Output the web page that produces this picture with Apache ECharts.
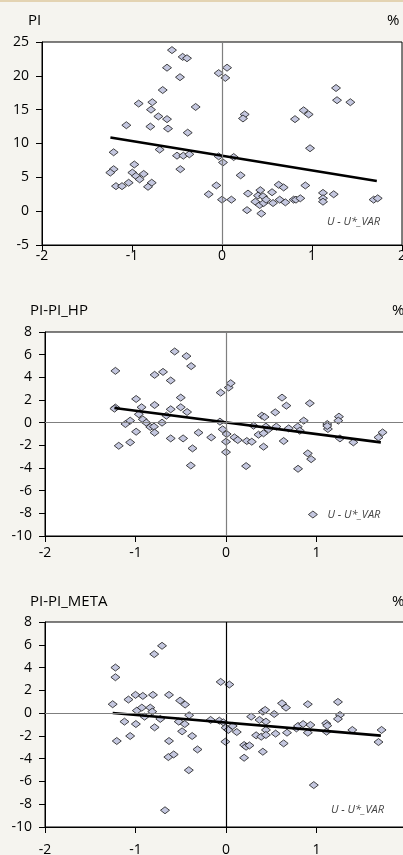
<!DOCTYPE html>
<html lang="en">
<head>
<meta charset="UTF-8">
<title>PI vs U - U*_VAR</title>
<script src="https://cdn.jsdelivr.net/npm/echarts@6/dist/echarts.min.js"></script>
<style>
  html, body { margin: 0; padding: 0; background: #f5f4ef; }
  #main { width: 403px; height: 855px; }
</style>
</head>
<body>
<div id="main"></div>
<script>
// panel titles and legend label
var titles = ['PI', 'PI-PI_HP', 'PI-PI_META'];
var seriesName = 'U - U*_VAR';
var xTicks = [-2, -1, 0, 1, 2];

// PI vs U - U*_VAR
var pi = [
  [-0.556, 23.8], [-0.437, 22.8], [-0.389, 22.6], [-0.611, 21.2], [-0.467, 19.8],
  [-0.037, 20.4], [0.056, 21.2], [0.037, 19.7], [-0.659, 17.9], [-0.926, 15.9],
  [-0.774, 16.1], [-0.789, 15.0], [-0.293, 15.4], [-0.707, 14.0], [-0.611, 13.6],
  [-1.063, 12.7], [-0.796, 12.5], [-0.6, 12.2], [-0.381, 11.6], [0.252, 14.3],
  [0.233, 13.7], [1.267, 18.2], [1.278, 16.4], [1.426, 16.1], [0.907, 14.9],
  [0.963, 14.3], [0.811, 13.6], [0.978, 9.3], [-1.204, 8.7], [-0.693, 9.1],
  [-0.5, 8.2], [-0.43, 8.2], [-0.363, 8.4], [-0.037, 8.1], [0.011, 7.2],
  [0.13, 8.0], [-0.463, 6.2], [-1.204, 6.2], [-1.241, 5.7], [-0.974, 6.9],
  [-0.996, 5.7], [-0.956, 5.2], [-0.87, 5.5], [-0.915, 4.7], [0.207, 5.3],
  [-1.178, 3.7], [-1.111, 3.7], [-1.037, 4.2], [-0.781, 4.2], [-0.822, 3.6],
  [-0.063, 3.8], [-0.148, 2.5], [0.0, 1.7], [0.104, 1.7], [0.289, 2.6],
  [0.278, 0.15], [0.426, 3.1], [0.4, 2.3], [0.456, 2.2], [0.37, 1.4],
  [0.419, 0.9], [0.463, 1.2], [0.437, -0.35], [0.556, 2.8], [0.567, 1.2],
  [0.63, 3.9], [0.685, 3.5], [0.641, 1.7], [0.704, 1.3], [0.796, 1.7],
  [0.822, 1.7], [0.87, 1.9], [0.926, 3.8], [1.122, 2.7], [1.122, 1.9],
  [1.122, 1.4], [1.241, 2.5], [1.685, 1.7], [1.73, 1.9], [0.49, 1.7]
];
var fitPi = [[-1.24, 10.9], [1.72, 4.45]];

// PI-PI_HP vs U - U*_VAR
var piHp = [
  [-1.222, 4.57], [-1.222, 1.33], [-1.233, 1.24], [-1.185, -2.04], [-1.111, -0.12],
  [-1.059, 0.18], [-1.059, -1.74], [-0.993, 2.09], [-0.993, -0.8], [-0.963, 0.74],
  [-0.933, 1.36], [-0.919, 0.29], [-0.881, 0.0], [-0.837, -0.38], [-0.796, -0.35],
  [-0.789, -0.88], [-0.789, 1.56], [-0.789, 4.22], [-0.696, 4.48], [-0.707, 0.0],
  [-0.659, 0.62], [-0.611, 3.72], [-0.611, 1.18], [-0.611, -1.39], [-0.567, 6.28],
  [-0.5, 2.21], [-0.5, 1.36], [-0.474, -1.39], [-0.437, 5.87], [-0.43, 0.94],
  [-0.385, 4.99], [-0.37, -2.27], [-0.389, -3.78], [-0.304, -0.88], [-0.163, -1.3],
  [-0.067, 0.09], [-0.059, 2.65], [-0.037, -0.59], [0.007, -1.0], [0.0, -1.68],
  [0.0, -2.6], [0.03, 3.1], [0.052, 3.48], [0.093, -1.3], [0.13, -1.53],
  [0.23, -1.62], [0.222, -3.83], [0.285, -1.68], [0.304, -0.27], [0.359, -1.06],
  [0.396, 0.62], [0.426, 0.5], [0.415, -0.94], [0.415, -2.12], [0.441, -0.35],
  [0.47, -0.59], [0.544, 0.91], [0.556, -0.35], [0.619, 2.21], [0.667, 1.5],
  [0.637, -1.62], [0.693, -0.5], [0.793, -0.35], [0.815, -0.71], [0.796, -4.07],
  [0.859, 0.18], [0.904, -2.71], [0.941, -3.22], [0.926, 1.71], [1.119, -0.12],
  [1.126, -0.56], [1.119, -0.29], [1.248, 0.53], [1.241, 0.18], [1.259, -1.39],
  [1.407, -1.74], [1.685, -1.3], [1.73, -0.86]
];
var fitHp = [[-1.233, 1.3], [1.711, -1.74]];

// PI-PI_META vs U - U*_VAR
var piMeta = [
  [-1.222, 4.0], [-1.222, 3.15], [-1.252, 0.78], [-1.207, -2.45], [-1.122, -0.75],
  [-1.078, 1.19], [-1.059, -2.01], [-1.0, 1.6], [-0.985, 0.22], [-0.996, -0.96],
  [-0.93, 0.48], [-0.919, 1.51], [-0.9, -0.31], [-0.837, 0.48], [-0.815, 0.13],
  [-0.807, 1.6], [-0.793, 5.18], [-0.789, -1.25], [-0.707, 5.91], [-0.726, -0.51],
  [-0.63, 1.6], [-0.63, -2.45], [-0.637, -3.86], [-0.578, -3.63], [-0.674, -8.53],
  [-0.507, 1.1], [-0.452, 0.75], [-0.522, -0.75], [-0.456, -0.96], [-0.485, -1.6],
  [-0.407, -0.19], [-0.374, -2.01], [-0.411, -5.01], [-0.315, -3.19], [-0.17, -0.6],
  [-0.074, -0.66], [-0.059, 2.74], [0.037, 2.51], [-0.03, -0.81], [-0.004, -1.28],
  [0.026, -1.48], [-0.007, -2.51], [0.074, -1.13], [0.119, -1.66], [0.2, -2.8],
  [0.222, -2.95], [0.259, -2.84], [0.2, -3.92], [0.278, -0.31], [0.333, -1.95],
  [0.37, -0.6], [0.389, -2.07], [0.407, 0.13], [0.433, 0.28], [0.407, -3.39],
  [0.441, -0.75], [0.441, -1.48], [0.441, -1.92], [0.533, -0.08], [0.548, -1.8],
  [0.619, 0.86], [0.663, 0.48], [0.637, -2.66], [0.674, -1.72], [0.778, -1.34],
  [0.796, -1.13], [0.852, -0.96], [0.904, 0.78], [0.904, -1.72], [0.933, -1.04],
  [0.97, -6.32], [1.107, -0.9], [1.111, -1.63], [1.119, -1.1], [1.237, 0.98],
  [1.259, -0.16], [1.237, -0.51], [1.396, -1.48], [1.685, -2.54], [1.719, -1.48]
];
var fitMeta = [[-1.252, 0.01], [1.711, -1.98]];

var font = '"Open Sans", "Noto Sans", sans-serif';
var chart = echarts.init(document.getElementById('main'));

var grids = [
  { left: 42, top: 42, width: 360, height: 203 },
  { left: 45, top: 332, width: 362, height: 204 },
  { left: 45, top: 622, width: 362, height: 205 }
];
var yRanges = [[-5, 25, 5], [-10, 8, 2], [-10, 8, 2]];
var xLabelMargin = [4, 10, 16];
var vLineColor = ['#7f7f7f', '#7f7f7f', '#000'];
var scatterData = [pi, piHp, piMeta];
var fitData = [fitPi, fitHp, fitMeta];
var markerStyle = { color: '#c4c7df', borderColor: '#1a1a1a', borderWidth: 0.8, opacity: 1 };

var xAxes = [], yAxes = [], series = [], titleList = [], legends = [];
grids.forEach(function (g, i) {
  g.show = true;
  g.outerBoundsMode = 'none';
  g.containLabel = false;
  g.backgroundColor = '#fff';
  g.borderColor = '#000';
  g.borderWidth = 1;
  xAxes.push({
    type: 'value', gridIndex: i, min: -2, max: 2, interval: 1,
    axisLine: { onZero: false, lineStyle: { color: '#000' } },
    axisTick: { show: true, length: 6, lineStyle: { color: '#000' } },
    axisLabel: { color: '#000', fontSize: 14, fontFamily: font, margin: xLabelMargin[i],
      showMaxLabel: true, showMinLabel: true, hideOverlap: false },
    splitLine: { show: false }
  });
  yAxes.push({
    type: 'value', gridIndex: i, min: yRanges[i][0], max: yRanges[i][1], interval: yRanges[i][2],
    axisLine: { show: true, onZero: false, lineStyle: { color: '#000' } },
    axisTick: { show: true, length: 6, lineStyle: { color: '#000' } },
    axisLabel: { color: '#000', fontSize: 14, fontFamily: font, margin: 13 },
    splitLine: { show: false }
  });
  var marks = [{ xAxis: 0, lineStyle: { color: vLineColor[i] } }];
  if (i > 0) marks.push({ yAxis: 0, lineStyle: { color: '#7f7f7f' } });
  series.push({
    name: seriesName, type: 'scatter', xAxisIndex: i, yAxisIndex: i,
    data: scatterData[i], symbol: 'diamond', symbolSize: [9, 7],
    itemStyle: markerStyle,
    markLine: { silent: true, symbol: 'none', label: { show: false },
      lineStyle: { type: 'solid', width: 1.2 }, data: marks },
    z: 3
  });
  series.push({
    type: 'line', xAxisIndex: i, yAxisIndex: i, data: fitData[i],
    symbol: 'none', lineStyle: { color: '#000', width: 2.6 }, z: 4
  });
  titleList.push({
    text: titles[i], left: i === 0 ? 28 : 30, top: [13, 303, 594][i], padding: 0,
    textStyle: { fontSize: 15, fontWeight: 'normal', color: '#000', fontFamily: font }
  });
  titleList.push({
    text: '%', left: i === 0 ? 387 : 392, top: [13, 303, 594][i], padding: 0,
    textStyle: { fontSize: 15, fontWeight: 'normal', color: '#000', fontFamily: font }
  });
  legends.push({
    data: [{ name: seriesName, icon: i === 1 ? 'diamond' : 'none' }],
    left: [313, 308, 317][i], top: [216, 509, 804][i], padding: 0,
    itemWidth: 9, itemHeight: 7, selectedMode: false,
    itemStyle: markerStyle,
    textStyle: { fontSize: 11, fontStyle: 'italic', color: '#444', fontFamily: font,
      padding: [0, 0, 0, i === 1 ? 5 : 0] }
  });
});

chart.setOption({
  backgroundColor: '#f5f4ef',
  animation: false,
  title: titleList,
  legend: legends,
  grid: grids,
  xAxis: xAxes,
  yAxis: yAxes,
  series: series,
  graphic: [{ type: 'rect', shape: { x: 0, y: 0, width: 403, height: 2 }, style: { fill: '#e3d3b2' } }]
});
</script>
</body>
</html>
